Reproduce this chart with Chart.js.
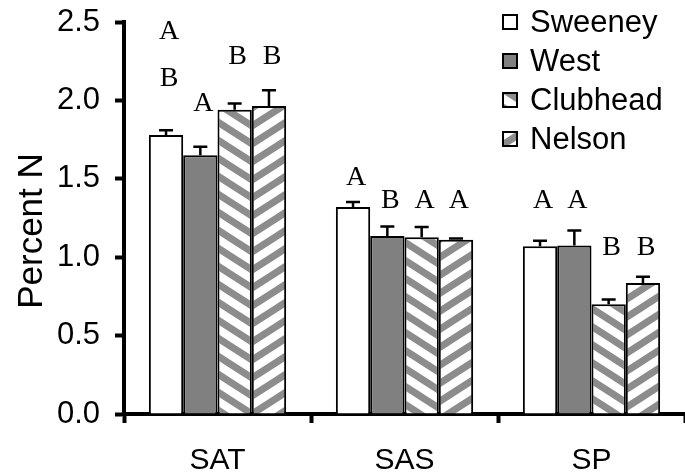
<!DOCTYPE html>
<html>
<head>
<meta charset="utf-8">
<script src="https://cdn.jsdelivr.net/npm/chart.js@4.4.1/dist/chart.umd.min.js"></script>
<style>
  html, body { margin: 0; padding: 0; background: #fff; }
</style>
</head>
<body>
<canvas id="myChart" width="685" height="476"></canvas>
<script>
const categories = ['SAT', 'SAS', 'SP'];
const seriesNames = ['Sweeney', 'West', 'Clubhead', 'Nelson'];
const yTicks = [0, 0.5, 1.0, 1.5, 2.0, 2.5];

// bar heights (Percent N)
const sweeney = [1.78, 1.32, 1.07];
const west = [1.65, 1.135, 1.075];
const clubhead = [1.94, 1.127, 0.70];
const nelson = [1.965, 1.112, 0.835];

// upper error (SE)
const sweeneyErr = [0.03, 0.032, 0.035];
const westErr = [0.055, 0.06, 0.095];
const clubheadErr = [0.04, 0.065, 0.03];
const nelsonErr = [0.10, 0.008, 0.04];

// significance letters and the value they sit at
const sweeneyLetters = ['AB', 'A', 'A'];
const westLetters = ['A', 'B', 'A'];
const clubheadLetters = ['B', 'A', 'B'];
const nelsonLetters = ['B', 'A', 'B'];
const sweeneyLetterY = [2.14, 1.51, 1.36];
const westLetterY = [1.98, 1.36, 1.36];
const clubheadLetterY = [2.28, 1.36, 1.06];
const nelsonLetterY = [2.28, 1.36, 1.06];

const sans = '"Liberation Sans", Arial, sans-serif';
const serif = '"Liberation Serif", "Times New Roman", serif';

const stripes = (dir) => {
    const w = 28, h = 18;
    const c = document.createElement('canvas');
    c.width = w;
    c.height = h;
    const g = c.getContext('2d');
    g.fillStyle = '#ffffff';
    g.fillRect(0, 0, w, h);
    g.strokeStyle = '#8c8c8c';
    g.lineWidth = 7;
    for (let k = -2; k <= 2; k++) {
        g.beginPath();
        if (dir > 0) {
            g.moveTo(-w, -h + k * h);
            g.lineTo(2 * w, 2 * h + k * h);
        } else {
            g.moveTo(-w, h + k * h);
            g.lineTo(2 * w, -2 * h + k * h);
        }
        g.stroke();
    }
    return g.createPattern(c, 'repeat');
};

const errorBars = {
    id: 'errorBars',
    afterDatasetsDraw(chart) {
        const ctx = chart.ctx;
        const y = chart.scales.y;
        ctx.save();
        ctx.strokeStyle = '#000';
        ctx.lineWidth = 2.5;
        chart.data.datasets.forEach((ds, i) => {
            chart.getDatasetMeta(i).data.forEach((bar, j) => {
                const top = y.getPixelForValue(ds.data[j] + ds.errors[j]);
                ctx.beginPath();
                ctx.moveTo(bar.x, bar.y);
                ctx.lineTo(bar.x, top);
                ctx.moveTo(bar.x - 7, top);
                ctx.lineTo(bar.x + 7, top);
                ctx.stroke();
            });
        });
        ctx.restore();
    }
};

const letterMarks = {
    id: 'letterMarks',
    afterDatasetsDraw(chart) {
        const ctx = chart.ctx;
        const y = chart.scales.y;
        ctx.save();
        ctx.fillStyle = '#000';
        ctx.font = '28px ' + serif;
        ctx.textAlign = 'center';
        ctx.textBaseline = 'middle';
        chart.data.datasets.forEach((ds, i) => {
            chart.getDatasetMeta(i).data.forEach((bar, j) => {
                const txt = ds.letters[j];
                for (let c = 0; c < txt.length; c++) {
                    const level = ds.letterLevels[j] + (txt.length - 1 - c) * 0.3;
                    ctx.fillText(txt[c], bar.x + 3, y.getPixelForValue(level));
                }
            });
        });
        ctx.restore();
    }
};

const legendBoxes = {
    id: 'legendBoxes',
    afterDraw(chart) {
        const ctx = chart.ctx;
        ctx.save();
        chart.data.datasets.forEach((ds, i) => {
            const cy = 22 + i * 39;
            ctx.fillStyle = ds.backgroundColor;
            ctx.fillRect(502, cy - 8, 16, 16);
            ctx.lineWidth = 2;
            ctx.strokeStyle = '#000';
            ctx.strokeRect(503, cy - 7, 14, 14);
            ctx.fillStyle = '#000';
            ctx.font = '31px ' + sans;
            ctx.textBaseline = 'middle';
            ctx.textAlign = 'left';
            ctx.fillText(ds.label, 530, cy + 1);
        });
        ctx.restore();
    }
};

const yTitle = {
    id: 'yTitle',
    afterDraw(chart) {
        const ctx = chart.ctx;
        ctx.save();
        ctx.translate(42, 231);
        ctx.rotate(-Math.PI / 2);
        ctx.fillStyle = '#000';
        ctx.font = '35px ' + sans;
        ctx.textAlign = 'center';
        ctx.textBaseline = 'alphabetic';
        ctx.fillText('Percent N', 0, 0);
        ctx.restore();
    }
};

const common = {
    borderColor: '#000',
    borderWidth: 2,
    categoryPercentage: 0.734,
    barPercentage: 1.0,
};

const data = {
    labels: categories,
    datasets: [
        { ...common, label: seriesNames[0], data: sweeney, errors: sweeneyErr, letters: sweeneyLetters, letterLevels: sweeneyLetterY, backgroundColor: '#ffffff' },
        { ...common, label: seriesNames[1], data: west, errors: westErr, letters: westLetters, letterLevels: westLetterY, backgroundColor: '#808080' },
        { ...common, label: seriesNames[2], data: clubhead, errors: clubheadErr, letters: clubheadLetters, letterLevels: clubheadLetterY, backgroundColor: stripes(1) },
        { ...common, label: seriesNames[3], data: nelson, errors: nelsonErr, letters: nelsonLetters, letterLevels: nelsonLetterY, backgroundColor: stripes(-1) },
    ],
};

const options = {
    responsive: false,
    animation: false,
    layout: { padding: { top: 22, right: -5, left: 0, bottom: 0 } },
    plugins: {
        legend: { display: false },
        tooltip: { enabled: false },
    },
    scales: {
        x: {
            grid: { drawOnChartArea: false, offset: true, tickLength: 9, tickColor: '#000', tickWidth: 4 },
            border: { color: '#000', width: 4 },
            ticks: { color: '#000', font: { size: 30, family: sans }, padding: 20 },
            afterFit: (s) => { s.height = 62; s.paddingLeft = 0; s.paddingRight = 0; },
        },
        y: {
            min: 0,
            max: 2.5,
            grid: { drawOnChartArea: false, tickLength: 9, tickColor: '#000', tickWidth: 4 },
            border: { color: '#000', width: 4 },
            afterBuildTicks: (s) => { s.ticks = yTicks.map((v) => ({ value: v })); },
            ticks: { color: '#000', font: { size: 31, family: sans }, padding: 15, callback: (v) => Number(v).toFixed(1) },
            afterFit: (s) => { s.width = 124; s.paddingTop = 0; s.paddingBottom = 0; },
        },
    },
};

new Chart('myChart', { type: 'bar', data, options, plugins: [errorBars, letterMarks, legendBoxes, yTitle] });
</script>
</body>
</html>
